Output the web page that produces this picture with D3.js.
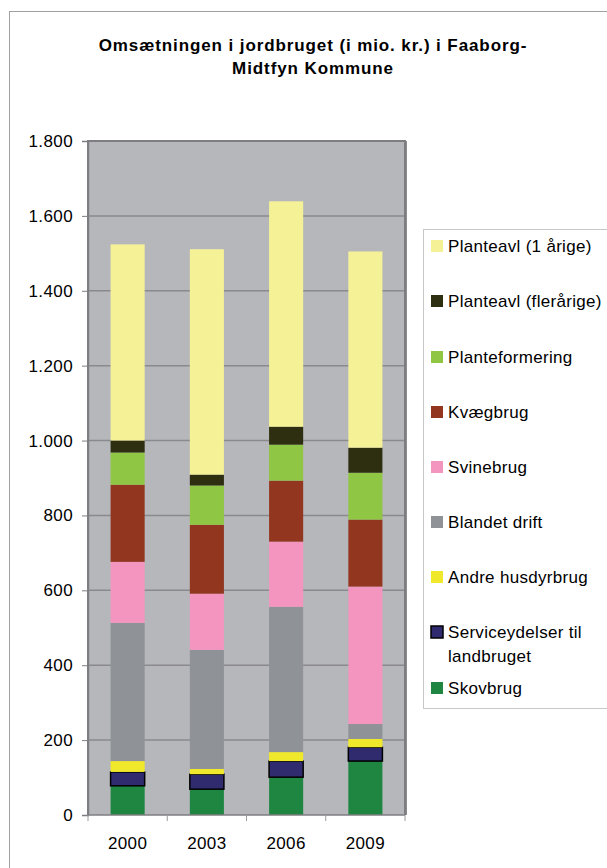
<html>
<head>
<script src="https://cdn.jsdelivr.net/npm/d3@7"></script>
</head>
<body style="margin:0;background:#fff">
<div id="chart"></div>
<script>

// data (mio. kr.)
var years = ["2000", "2003", "2006", "2009"];
var seriesNames = ["Skovbrug", "Serviceydelser til landbruget", "Andre husdyrbrug", "Blandet drift",
    "Svinebrug", "Kvægbrug", "Planteformering", "Planteavl (flerårige)", "Planteavl (1 årige)"];
var skovbrug   = [78, 69, 101, 144];
var service    = [37, 40, 43, 37];
var andre      = [29, 14, 24, 22];
var blandet    = [369, 318, 388, 40];
var svine      = [163, 150, 174, 367];
var kvaeg      = [206, 184, 163, 179];
var planteform = [86, 105, 96, 125];
var flerarige  = [32, 29, 48, 67];
var etarige    = [524, 602, 602, 524];
var yTicks = [0, 200, 400, 600, 800, 1000, 1200, 1400, 1600, 1800];

var colors = ["#1f8642", "#302a6e", "#f0e82a", "#8f9296", "#f495c0", "#92361f", "#8fc643", "#2e2e10", "#f5f197"];
var allSeries = [skovbrug, service, andre, blandet, svine, kvaeg, planteform, flerarige, etarige];

var rows = years.map(function(y, i) {
    var r = {year: y};
    seriesNames.forEach(function(n, k) { r[n] = allSeries[k][i]; });
    return r;
});

var W = 607, H = 868;
var svg = d3.select("#chart").append("svg")
    .attr("width", W).attr("height", H)
    .style("font-family", "Liberation Sans, Arial, sans-serif");

// outer chart border
svg.append("rect")
    .attr("x", 9.5).attr("y", 11.5)
    .attr("width", 700).attr("height", 900)
    .attr("fill", "#fff").attr("stroke", "#a0a0a0");

// title
var title = svg.append("text")
    .attr("text-anchor", "middle")
    .style("font-size", "17px").style("font-weight", "bold")
    .style("letter-spacing", "0.9px");
title.append("tspan").attr("x", 313).attr("y", 51).text("Omsætningen i jordbruget (i mio. kr.) i Faaborg-");
title.append("tspan").attr("x", 313).attr("y", 74).text("Midtfyn Kommune");

var plot = {left: 88, right: 405, top: 141, bottom: 815};

var x = d3.scaleBand()
    .domain(years)
    .range([plot.left, plot.right])
    .paddingInner(0.57)
    .paddingOuter(0.285);

var y = d3.scaleLinear()
    .domain([0, 1800])
    .range([plot.bottom, plot.top]);

var dk = d3.formatLocale({decimal: ",", thousands: ".", grouping: [3], currency: ["", ""]});
var fmt = dk.format(",");

// plot background
svg.append("rect")
    .attr("x", plot.left).attr("y", plot.top)
    .attr("width", plot.right - plot.left).attr("height", plot.bottom - plot.top)
    .attr("fill", "#b6b7bb");

// gridlines
svg.append("g")
    .selectAll("line")
    .data(yTicks.slice(1))
    .enter().append("line")
    .attr("x1", plot.left).attr("x2", plot.right)
    .attr("y1", function(d) { return y(d); })
    .attr("y2", function(d) { return y(d); })
    .attr("stroke", "#8a8a8e").attr("stroke-width", 1.5);

// bars
var stack = d3.stack().keys(seriesNames)(rows);
svg.append("g")
    .selectAll("g")
    .data(stack)
    .enter().append("g")
    .attr("fill", function(d, i) { return colors[i]; })
    .attr("stroke", function(d, i) { return i == 1 ? "#000" : "none"; })
    .attr("stroke-width", 1.5)
    .selectAll("rect")
    .data(function(d) { return d; })
    .enter().append("rect")
    .attr("x", function(d) { return x(d.data.year); })
    .attr("width", x.bandwidth())
    .attr("y", function(d) { return y(d[1]); })
    .attr("height", function(d) { return y(d[0]) - y(d[1]); });

// plot border
svg.append("path")
    .attr("d", "M" + plot.left + "," + plot.bottom + "V" + plot.top + "H" + plot.right + "V" + plot.bottom)
    .attr("fill", "none").attr("stroke", "#7e7e82").attr("stroke-width", 2);
svg.append("line")
    .attr("x1", plot.right + 1.5).attr("x2", plot.right + 1.5)
    .attr("y1", plot.top).attr("y2", plot.bottom)
    .attr("stroke", "#8c8c90").attr("stroke-width", 1);

// y axis
var yAxis = svg.append("g")
    .attr("transform", "translate(" + plot.left + ",0)")
    .call(d3.axisLeft(y).tickValues(yTicks).tickFormat(fmt).tickSize(6).tickPadding(9));
yAxis.select(".domain").attr("stroke", "#7e7e82").attr("stroke-width", 1.5);
yAxis.selectAll(".tick line").attr("stroke", "#7e7e82");
yAxis.selectAll("text")
    .style("font-size", "17px").style("letter-spacing", "0.4px")
    .attr("fill", "#000").attr("font-family", null);

// x axis
svg.append("line")
    .attr("x1", plot.left).attr("x2", plot.right)
    .attr("y1", plot.bottom).attr("y2", plot.bottom)
    .attr("stroke", "#7e7e82").attr("stroke-width", 1.5);
var step = x.step();
svg.append("g")
    .selectAll("line")
    .data(d3.range(years.length + 1))
    .enter().append("line")
    .attr("x1", function(i) { return plot.left + i * step; })
    .attr("x2", function(i) { return plot.left + i * step; })
    .attr("y1", plot.bottom).attr("y2", plot.bottom + 6)
    .attr("stroke", "#9a9a9e");
svg.append("g")
    .selectAll("text")
    .data(years)
    .enter().append("text")
    .attr("x", function(d) { return x(d) + x.bandwidth() / 2; })
    .attr("y", 849)
    .attr("text-anchor", "middle")
    .style("font-size", "17px").style("letter-spacing", "0.4px")
    .text(function(d) { return d; });

// legend
svg.append("rect")
    .attr("x", 423.5).attr("y", 229.5)
    .attr("width", 300).attr("height", 479)
    .attr("fill", "#fff").attr("stroke", "#c8c8c8");

var legendOrder = seriesNames.slice().reverse();
var legendY = [246, 301, 357, 412, 467, 522, 577, 632, 688];
var legend = svg.append("g")
    .selectAll("g")
    .data(legendOrder)
    .enter().append("g")
    .attr("transform", function(d, i) { return "translate(431," + legendY[i] + ")"; });
legend.append("rect")
    .attr("x", 0).attr("y", -6)
    .attr("width", 12).attr("height", 12)
    .attr("fill", function(d) { return colors[seriesNames.indexOf(d)]; })
    .attr("stroke", function(d) { return seriesNames.indexOf(d) == 1 ? "#000" : "none"; })
    .attr("stroke-width", 1.5);
legend.append("text")
    .style("font-size", "17px").style("letter-spacing", "0.3px")
    .each(function(d) {
        var t = d3.select(this);
        var lines = d == "Serviceydelser til landbruget" ? ["Serviceydelser til", "landbruget"] : [d];
        lines.forEach(function(l, j) {
            t.append("tspan").attr("x", 17).attr("y", 6 + j * 24).text(l);
        });
    });

</script>
</body>
</html>
